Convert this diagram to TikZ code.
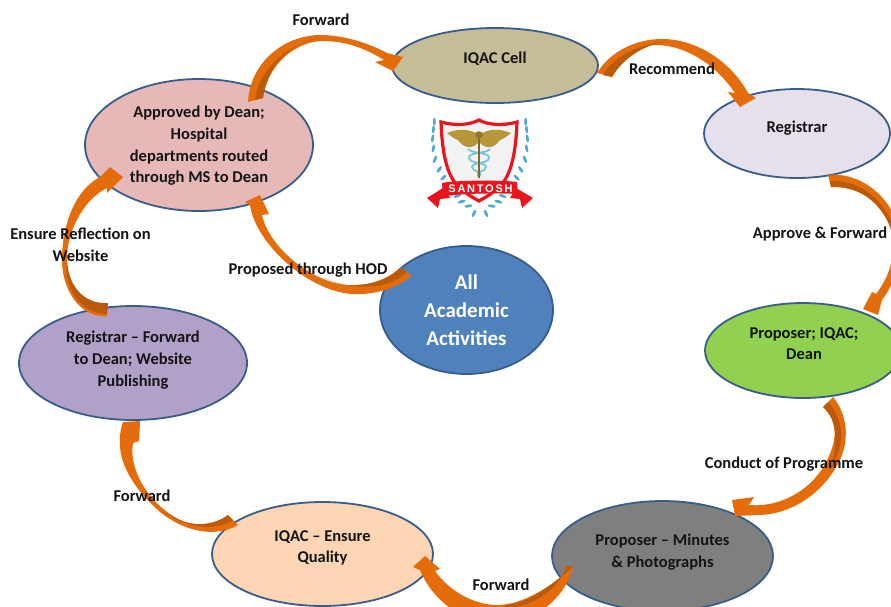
\documentclass[tikz,border=0pt]{standalone}
\usepackage{fontspec}
\setmainfont{Carlito}
\newfontfamily\spaced[LetterSpace=16]{Liberation Sans}
\usetikzlibrary{shapes.geometric,calc}
\definecolor{flowc}{HTML}{E46C0A}
\definecolor{flowd}{HTML}{BC5A0C}
\definecolor{edgec}{HTML}{385D8A}
\definecolor{ink}{HTML}{141414}
\definecolor{shieldred}{HTML}{E8141E}
\definecolor{leaf}{HTML}{4FA9D0}
\definecolor{snakeblue}{HTML}{74C6DC}
\definecolor{gold}{HTML}{B8963A}
\definecolor{cA}{HTML}{C4BD97}
\definecolor{cB}{HTML}{E6B9B8}
\definecolor{cC}{HTML}{E6E0EC}
\definecolor{cD}{HTML}{92D050}
\definecolor{cE}{HTML}{4F81BD}
\definecolor{cF}{HTML}{B1A0C7}
\definecolor{cG}{HTML}{FCD5B5}
\definecolor{cH}{HTML}{7F7F7F}
\tikzset{
  x=1pt,y=-1pt,
  bubble/.style={ellipse,draw=edgec,line width=1.8pt,inner sep=0pt,outer sep=0pt},
  txt/.style={font=\bfseries\fontsize{16.5}{21.7}\selectfont,text=ink,align=center,inner sep=0pt},
  bigtxt/.style={font=\bfseries\fontsize{21}{28}\selectfont,text=white,align=center,inner sep=0pt},
  flow/.style={fill=flowc},
  flowdark/.style={fill=flowd},
  leafy/.style={fill=leaf}
}
\begin{document}
\begin{tikzpicture}
\clip (0,0) rectangle (891,606);
\fill[white] (0,0) rectangle (891,606);
% ellipses
\node[bubble,fill=cA,minimum width=206pt,minimum height=75pt] (iqac) at (495,65.5) {};
\node[bubble,fill=cB,minimum width=228pt,minimum height=132pt] (dean) at (199,145) {};
\node[bubble,fill=cC,minimum width=186pt,minimum height=89pt] (reg) at (797,133.5) {};
\node[bubble,fill=cD,minimum width=196pt,minimum height=95pt] (prop) at (803,350.5) {};
\node[bubble,fill=cE,minimum width=173pt,minimum height=128pt] (all) at (466.5,310) {};
\node[bubble,fill=cF,minimum width=228pt,minimum height=114pt] (pub) at (133,363) {};
\node[bubble,fill=cG,minimum width=221pt,minimum height=104pt] (qual) at (322.5,554) {};
\node[bubble,fill=cH,minimum width=221pt,minimum height=110pt] (mins) at (662.5,556) {};
% connector ends
\coordinate (a1s) at ($(dean)+(49,-43)$);
\coordinate (a1e) at ($(iqac)+(-102,5.5)$);
\coordinate (a2s) at ($(iqac)+(102,7.5)$);
\coordinate (a2e) at ($(reg)+(-57,-26.5)$);
\coordinate (a3s) at ($(reg)+(31,41.5)$);
\coordinate (a3e) at ($(prop)+(60,-41.5)$);
\coordinate (a4s) at ($(prop)+(30,46.5)$);
\coordinate (a4e) at ($(mins)+(72.5,-40)$);
\coordinate (a5s) at ($(mins)+(-89.5,10)$);
\coordinate (a5e) at ($(qual)+(102.5,2)$);
\coordinate (a6s) at ($(qual)+(-94.5,-39)$);
\coordinate (a6e) at ($(pub)+(-10,59)$);
\coordinate (a7s) at ($(pub)+(-25,-60)$);
\coordinate (a7e) at ($(dean)+(-76,32)$);
\coordinate (a8s) at ($(all)+(-66.5,-42)$);
\coordinate (a8e) at ($(dean)+(61,50)$);
% connectors
\fill[flow] (a1s) .. controls (250,62) and (285,34) .. (323,35) .. controls (348,36) and (370,44) .. (387,53) -- (403,57) -- (a1e) -- (375,62) -- (384,60) .. controls (365,48) and (345,41) .. (323,41) .. controls (298,41) and (268,62) .. (263,98) -- cycle;
\fill[flowdark] (255,100) .. controls (258,72) and (285,44) .. (320,38) .. controls (295,41) and (268,62) .. (263,98) -- cycle;
\fill[flow] (a2s) .. controls (610,52) and (635,39) .. (662,39) .. controls (695,39) and (730,60) .. (748,93) -- (756,98) -- (a2e) -- (728,92) -- (735,93) .. controls (718,68) and (690,46) .. (657,45) .. controls (637,45) and (622,58) .. (612,77) -- cycle;
\fill[flowdark] (603,75) .. controls (612,58) and (638,43) .. (672,41) .. controls (650,42) and (625,55) .. (612,77) -- cycle;
\fill[flow] (a3s) .. controls (855,172) and (885,190) .. (897,222) .. controls (906,248) and (900,275) .. (882,300) -- (878,315) -- (a3e) -- (872,292) -- (876,294) .. controls (893,272) and (897,248) .. (889,224) .. controls (878,200) and (858,186) .. (831,187) -- cycle;
\fill[flowdark] (830,181) .. controls (858,180) and (880,196) .. (893,224) .. controls (897,235) and (898,245) .. (896,256) .. controls (897,240) and (895,235) .. (889,224) .. controls (878,200) and (858,186) .. (831,187) -- cycle;
\fill[flow] (a4s) .. controls (848,415) and (852,445) .. (833,472) .. controls (818,495) and (790,515) .. (757,515) -- (735,516) -- (732,500) -- (754,497) -- (749,505) .. controls (785,508) and (815,485) .. (826,462) .. controls (838,440) and (838,420) .. (823,407) -- cycle;
\fill[flowdark] (828,402) .. controls (844,420) and (846,445) .. (830,470) .. controls (838,445) and (838,420) .. (823,407) -- cycle;
\fill[flow] (573,566) .. controls (566,600) and (530,625) .. (497,625) .. controls (465,625) and (432,600) .. (420,570) -- (413,567) -- (a5e) -- (440,569) -- (435,571) .. controls (450,592) and (475,605) .. (497,605) .. controls (520,605) and (548,590) .. (a5s) -- cycle;
\fill[flowdark] (566,566) .. controls (560,590) and (530,608) .. (505,608) -- (505,605) .. controls (525,604) and (548,590) .. (a5s) -- cycle;
\fill[flow] (238,525) .. controls (215,538) and (185,532) .. (160,512) .. controls (130,485) and (112,455) .. (a6e) -- (140,421) -- (139,441) -- (133,443) .. controls (128,470) and (150,505) .. (180,520) .. controls (195,527) and (215,525) .. (a6s) -- cycle;
\fill[flowdark] (233,520) .. controls (215,532) and (185,528) .. (160,510) .. controls (170,516) and (175,518) .. (180,520) .. controls (195,527) and (215,525) .. (a6s) -- cycle;
\fill[flow] (a7s) .. controls (88,305) and (68,290) .. (67,260) .. controls (66,235) and (82,200) .. (107,188) -- (107,193) -- (a7e) -- (110,167) -- (100,177) .. controls (75,190) and (62,225) .. (62,260) .. controls (62,290) and (80,318) .. (107,316) -- cycle;
\fill[flowdark] (a7s) .. controls (88,305) and (68,290) .. (67,260) .. controls (63,290) and (82,314) .. (107,314) -- cycle;
\fill[flow] (a8s) .. controls (385,282) and (365,286) .. (347,285) .. controls (315,283) and (270,250) .. (262,215) -- (269,214) -- (a8e) -- (245,202) -- (250,205) .. controls (256,245) and (310,292) .. (353,294) .. controls (375,295) and (398,288) .. (412,275) -- cycle;
\fill[flowdark] (a8s) .. controls (385,282) and (365,286) .. (347,285) .. controls (340,285) and (333,282) .. (325,278) .. controls (340,287) and (385,294) .. (407,272) -- cycle;
% emblem
\foreach \zx/\zy/\rot in {103/65/0,100/88/-6,98/115/-8,100/145/-12,105/178/-22,118/208/-35,130/233/-45,172/288/-70,185/305/-75,205/318/-80,222/340/-25}{
  \fill[leafy] ({400+\zx/3},{100+\zy/3}) ellipse[x radius=1.5,y radius=4,rotate=\rot];
  \fill[leafy] ({400+(480-\zx)/3},{100+\zy/3}) ellipse[x radius=1.5,y radius=4,rotate=-\rot];
}
\filldraw[draw=shieldred,line width=3.2pt,fill=black!5] (479,120) .. controls (470,125) and (455,126) .. (441,122) .. controls (442,150) and (446,172) .. (456,184) .. controls (463,192) and (472,197) .. (479,201) .. controls (486,197) and (495,192) .. (502,184) .. controls (512,172) and (516,150) .. (517,122) .. controls (503,126) and (488,125) .. (479,120) -- cycle;
\fill[gold] (478,134) .. controls (465,127) and (455,130) .. (447,133) .. controls (452,137) and (455,139) .. (458,140) .. controls (462,146) and (470,151) .. (478,143) -- cycle;
\fill[gold] (480,134) .. controls (493,127) and (503,130) .. (511,133) .. controls (506,137) and (503,139) .. (500,140) .. controls (496,146) and (488,151) .. (480,143) -- cycle;
\draw[snakeblue,line width=1.8pt] (468,149) .. controls (472,154) and (490,152) .. (489,158) .. controls (488,164) and (472,162) .. (472,167) .. controls (472,172) and (484,171) .. (479,177);
\draw[snakeblue,line width=1.8pt] (490,149) .. controls (486,154) and (468,152) .. (469,158) .. controls (470,164) and (486,162) .. (486,167) .. controls (486,172) and (474,171) .. (479,177);
\draw[gold!70!black,line width=1.5pt] (479,136) -- (479,178);
\fill[gold!80!black] (479,135) circle[radius=3.8];
\fill[shieldred] (443,188) -- (427,198) -- (438,208) -- (440,199) -- (450,198) -- cycle;
\fill[shieldred] (516,188) -- (533,198) -- (522,208) -- (520,199) -- (510,198) -- cycle;
\fill[shieldred] (442,183) .. controls (455,180) and (503,180) .. (517,182) -- (518,194) .. controls (503,193) and (455,193) .. (443,197) -- cycle;
\node[font=\spaced\bfseries\fontsize{11}{11}\selectfont,text=white,inner sep=0pt] (logo) at (480.5,188.5) {SANTOSH};
% texts
\node[txt] (t1) at ($(iqac)+(0,-7)$) {IQAC Cell};
\node[txt] (t2) at ($(dean)+(0,1)$) {Approved by Dean;\\Hospital\\departments routed\\through MS to Dean};
\node[txt] (t3) at ($(reg)+(0,-5.5)$) {Registrar};
\node[txt] (t4) at ($(prop)+(1,-7)$) {Proposer; IQAC;\\Dean};
\node[bigtxt] (t5) at ($(all)+(0,0)$) {All\\Academic\\Activities};
\node[txt] (t6) at ($(pub)+(0,-3)$) {Registrar – Forward\\to Dean; Website\\Publishing};
\node[txt] (t7) at ($(qual)+(0,-6)$) {IQAC – Ensure\\Quality};
\node[txt] (t8) at ($(mins)+(0,-4)$) {Proposer – Minutes\\\& Photographs};
\node[txt] (l1) at (321,20) {Forward};
\node[txt] (l2) at (672,69) {Recommend};
\node[txt] (l3) at (820,234) {Approve \& Forward};
\node[txt] (l4) at (784,464.5) {Conduct of Programme};
\node[txt] (l5) at (501,584.5) {Forward};
\node[txt] (l6) at (142,496) {Forward};
\node[txt] (l7) at (80.5,245) {Ensure Reflection on\\Website};
\node[txt] (l8) at (308,270) {Proposed through HOD};
\end{tikzpicture}
\end{document}
